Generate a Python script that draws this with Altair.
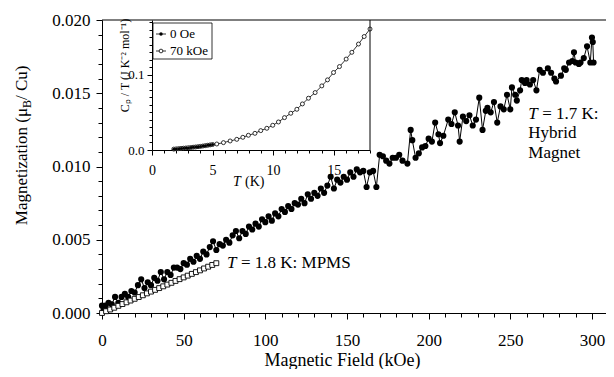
import altair as alt
import pandas as pd

# ---------------- data ----------------
field_hybrid = [0, 1, 2, 3, 4, 6, 8, 10, 12, 14, 16, 18, 20, 22, 24, 26, 28, 30, 32, 34,
                36, 38, 40, 42, 44, 46, 48, 50, 52, 54, 56, 58, 60, 62, 64, 66, 68, 70, 72, 74,
                76, 78, 80, 82, 84, 86, 88, 90, 92, 94, 96, 98, 100, 102, 104, 106, 108, 110, 112, 114,
                116, 118, 120, 122, 124, 126, 128, 130, 132, 134, 136, 138, 140, 142, 144, 146, 148, 150, 152, 154,
                156, 158, 160, 162, 164, 166, 168, 170, 172, 174, 176, 178, 180, 182, 184, 187, 189, 190, 192, 194,
                196, 198, 200, 202, 204, 206, 207, 209, 212, 214, 216, 218, 219, 221, 223, 225, 227, 229, 231, 233,
                235, 236, 238, 240, 242, 244, 246, 248, 250, 251, 253, 254, 256, 257, 259, 260, 262, 264, 266, 268,
                270, 273, 275, 277, 278, 281, 283, 284, 286, 288, 289, 290, 292, 293, 295, 297, 299, 300, 300.5, 301]
mag_hybrid = [0.0005, 0.0002, 0.0005, 0.0002, 0.0007, 0.0006, 0.0011, 0.0007, 0.0011, 0.0013, 0.0011, 0.0015, 0.0014, 0.0019, 0.0023, 0.0017, 0.0021, 0.0019, 0.0024, 0.0022,
              0.0028, 0.0023, 0.0028, 0.0026, 0.0031, 0.0031, 0.0030, 0.0034, 0.0033, 0.0037, 0.0035, 0.0039, 0.0037, 0.0042, 0.0040, 0.0045, 0.0049, 0.0043, 0.0047, 0.0046,
              0.0050, 0.0048, 0.0053, 0.0056, 0.0051, 0.0056, 0.0054, 0.0059, 0.0057, 0.0061, 0.0059, 0.0064, 0.0062, 0.0066, 0.0063, 0.0068, 0.0066, 0.0071, 0.0069, 0.0073,
              0.0071, 0.0075, 0.0074, 0.0078, 0.0075, 0.0081, 0.0078, 0.0082, 0.0080, 0.0085, 0.0082, 0.0087, 0.0093, 0.0085, 0.0091, 0.0089, 0.0093, 0.0091, 0.0096, 0.0093,
              0.0098, 0.0096, 0.0097, 0.0086, 0.0096, 0.0097, 0.0086, 0.0108, 0.0107, 0.0104, 0.0102, 0.0106, 0.0106, 0.0108, 0.0104, 0.0102, 0.0125, 0.0118, 0.0106, 0.0109,
              0.0113, 0.0114, 0.0119, 0.0117, 0.0130, 0.0122, 0.0116, 0.0121, 0.0132, 0.0129, 0.0137, 0.0128, 0.0117, 0.0134, 0.0131, 0.0135, 0.0128, 0.0132, 0.0147, 0.0125,
              0.0138, 0.0140, 0.0137, 0.0144, 0.0130, 0.0141, 0.0139, 0.0149, 0.0139, 0.0154, 0.0149, 0.0145, 0.0152, 0.0159, 0.0157, 0.0159, 0.0156, 0.0159, 0.0152, 0.0166,
              0.0164, 0.0167, 0.0164, 0.0160, 0.0158, 0.0162, 0.0167, 0.0166, 0.0171, 0.0172, 0.0178, 0.0171, 0.0170, 0.0171, 0.0174, 0.0182, 0.0171, 0.0188, 0.0185, 0.0171]

field_mpms = [0, 2.5, 5, 7.5, 10, 12.5, 15, 17.5, 20, 22.5, 25, 27.5, 30, 32.5, 35,
              37.5, 40, 42.5, 45, 47.5, 50, 52.5, 55, 57.5, 60, 62.5, 65, 67.5, 70]
mag_mpms = [0.0000, 0.00012, 0.00024, 0.00036, 0.00049, 0.00061, 0.00073, 0.00085, 0.00097, 0.00109, 0.00121, 0.00134, 0.00146, 0.00158, 0.00170,
            0.00182, 0.00194, 0.00206, 0.00219, 0.00231, 0.00243, 0.00255, 0.00267, 0.00279, 0.00291, 0.00304, 0.00316, 0.00328, 0.00340]

temp_70kOe = [1.8, 2.0, 2.2, 2.4, 2.6, 2.8, 3.0, 3.2, 3.4, 3.6, 3.8, 4.0, 4.2, 4.4, 4.6, 4.8, 5.0,
              5.35, 5.9, 6.45, 7.0, 7.5, 7.96, 8.5, 8.98, 9.48, 9.97, 10.44, 10.94, 11.46, 11.96, 12.42,
              12.92, 13.47, 14.02, 14.49, 14.99, 15.48, 16.03, 16.5, 17.05, 17.52, 18.0]
cpT_70kOe = [0.0012, 0.0015, 0.0018, 0.0021, 0.0024, 0.0027, 0.0030, 0.0033, 0.0037, 0.0040, 0.0044, 0.0048, 0.0053, 0.0058, 0.0063, 0.0068, 0.0073,
             0.0080, 0.0098, 0.0120, 0.0142, 0.0169, 0.0196, 0.0222, 0.0258, 0.0289, 0.0329, 0.0373, 0.0431, 0.0489, 0.0542, 0.0613,
             0.0689, 0.0764, 0.0853, 0.0933, 0.1031, 0.1110, 0.1210, 0.1300, 0.1410, 0.1510, 0.1610]
temp_0Oe = [1.8, 2.0, 2.2, 2.4, 2.6, 2.8, 3.0, 3.2, 3.4, 3.6, 3.8, 4.0, 4.2, 4.4, 4.6, 4.8, 5.0]
cpT_0Oe = [0.0010, 0.0013, 0.0016, 0.0019, 0.0022, 0.0025, 0.0028, 0.0032, 0.0035, 0.0039, 0.0043, 0.0047, 0.0052, 0.0057, 0.0062, 0.0067, 0.0072]

legend_labels = ["0 Oe", "70 kOe"]

# ---------------- layout ----------------
PAD_L = 94
W, H = 504, 293
FONT = "Liberation Serif"

hyb = pd.DataFrame({"H": field_hybrid, "M": mag_hybrid})
mp = pd.DataFrame({"H": field_mpms, "M": mag_mpms})
c70 = pd.DataFrame({"T": temp_70kOe, "C": cpT_70kOe})
c0 = pd.DataFrame({"T": temp_0Oe, "C": cpT_0Oe})
one = pd.DataFrame({"k": [0]})

xs = alt.Scale(domain=[0, 308.6], range=[0, W], nice=False, zero=False)
ys = alt.Scale(domain=[0, 0.020], range=[H, 0], nice=False, zero=False)

x_axis = alt.Axis(
    orient="bottom", values=list(range(0, 301, 10)), format="d",
    labelExpr="datum.value % 50 === 0 ? datum.label : ''",
    tickSize={"condition": {"test": "datum.value % 50 === 0", "value": 6}, "value": 4},
    labelFlush=False, labelOverlap=False, labelFontSize=17, labelPadding=13,
    title="Magnetic Field (kOe)", titleFontSize=18, titleX=240, titleY=47,
    titleBaseline="middle", titleAnchor="middle")
y_axis = alt.Axis(
    orient="left", values=[i / 1000 for i in range(21)], format=".3f",
    labelExpr="round(datum.value*1000) % 5 === 0 ? datum.label : ''",
    tickSize={"condition": {"test": "round(datum.value*1000) % 5 === 0", "value": 6}, "value": 4},
    labelFlush=False, labelOverlap=False, labelFontSize=17, labelPadding=6, title=None)


def X(ax=None):
    return alt.X("H:Q", scale=xs, axis=ax)


def Y(ax=None):
    return alt.Y("M:Q", scale=ys, axis=ax)


hyb_line = alt.Chart(hyb).mark_line(color="black", strokeWidth=1).encode(
    x=X(x_axis), y=Y(y_axis), order="H:Q")
hyb_pts = alt.Chart(hyb).mark_point(shape="circle", filled=True, color="black", size=38, opacity=1).encode(
    x=X(), y=Y())
mp_line = alt.Chart(mp).mark_line(color="black", strokeWidth=0.8).encode(x=X(), y=Y())
mp_pts = alt.Chart(mp).mark_point(shape="square", filled=True, fill="white", stroke="black",
                                  strokeWidth=0.9, size=24, opacity=1).encode(x=X(), y=Y())

top_rule = alt.Chart(one).mark_rule(color="black", strokeWidth=1.2).encode(
    x=alt.value(0), x2=alt.value(W), y=alt.value(0))

ann = pd.DataFrame({"H": [76.5, 261.0, 261.0, 261.0],
                    "M": [0.00341, 0.01358, 0.01229, 0.01092],
                    "rest": ["= 1.8 K: MPMS", "= 1.7 K:", "Hybrid", "Magnet"],
                    "ital": ["T", "T", "", ""]})
ann_T = alt.Chart(ann).mark_text(font=FONT, fontSize=17, fontStyle="italic", align="left",
                                 baseline="middle", color="black").encode(x=X(), y=Y(), text="ital:N")
ann_r1 = alt.Chart(ann.iloc[:2]).mark_text(font=FONT, fontSize=17, align="left", baseline="middle",
                                           color="black", dx=14).encode(x=X(), y=Y(), text="rest:N")
ann_r2 = alt.Chart(ann.iloc[2:]).mark_text(font=FONT, fontSize=17, align="left", baseline="middle",
                                           color="black").encode(x=X(), y=Y(), text="rest:N")

# y-axis title with subscript B
YT_X, YT_Y = -80, 88
yt1 = alt.Chart(one).mark_text(font=FONT, fontSize=17, angle=270, align="right", baseline="middle",
                               color="black").encode(x=alt.value(YT_X), y=alt.value(YT_Y),
                                                     text=alt.value("Magnetization  (\u03bc"))
yt2 = alt.Chart(one).mark_text(font=FONT, fontSize=12, angle=270, align="left", baseline="middle",
                               color="black", dy=5).encode(x=alt.value(YT_X), y=alt.value(YT_Y),
                                                           text=alt.value("B"))
yt3 = alt.Chart(one).mark_text(font=FONT, fontSize=17, angle=270, align="left", baseline="middle",
                               color="black", dx=8).encode(x=alt.value(YT_X), y=alt.value(YT_Y),
                                                           text=alt.value(" / Cu)"))

# ---------------- inset ----------------
ixs = alt.Scale(domain=[0, 18], range=[50, 268], nice=False, zero=False)
iys = alt.Scale(domain=[0, 0.173], range=[130, 0], nice=False, zero=False)

ix_axis = alt.Axis(
    orient="bottom", offset=-163, values=list(range(0, 19)), format="d",
    labelExpr="datum.value % 5 === 0 ? datum.label : ''",
    tickSize={"condition": {"test": "datum.value % 5 === 0", "value": 5}, "value": 3},
    labelFlush=False, labelOverlap=False, labelFontSize=14, labelPadding=8, title=None)
iy_axis = alt.Axis(
    orient="left", offset=-50, values=[i / 100 for i in range(18)], format=".1f",
    labelExpr="round(datum.value*100) % 10 === 0 ? datum.label : ''",
    tickSize={"condition": {"test": "round(datum.value*100) % 10 === 0", "value": 5}, "value": 3},
    labelFlush=False, labelOverlap=False, labelFontSize=13, labelPadding=3,
    title="C\u209a / T (J K\u207b\u00b2 mol\u207b\u00b9)", titleFontSize=12, titleX=-28, titleY=45,
    titleAngle=270, titleAlign="center", titleBaseline="middle")


def IX(ax=None):
    return alt.X("T:Q", scale=ixs, axis=ax)


def IY(ax=None):
    return alt.Y("C:Q", scale=iys, axis=ax)


l70 = alt.Chart(c70).mark_line(color="black", strokeWidth=0.8).encode(x=IX(ix_axis), y=IY(iy_axis))
p70 = alt.Chart(c70).mark_point(shape="circle", filled=True, fill="white", stroke="black",
                                strokeWidth=0.8, size=16, opacity=1).encode(x=IX(), y=IY())
p0 = alt.Chart(c0).mark_point(shape="circle", filled=True, color="black", size=9, opacity=1).encode(
    x=IX(), y=IY())
frame_df = pd.DataFrame({"T": [18], "C": [0], "C2": [0.173]})
right_rule = alt.Chart(frame_df).mark_rule(color="black", strokeWidth=1).encode(
    x=IX(), y=IY(), y2="C2:Q")

it1 = alt.Chart(one).mark_text(font=FONT, fontSize=14, fontStyle="italic", align="left",
                               baseline="middle", color="black").encode(
    x=alt.value(131), y=alt.value(162), text=alt.value("T"))
it2 = alt.Chart(one).mark_text(font=FONT, fontSize=14, align="left", baseline="middle",
                               color="black").encode(
    x=alt.value(143), y=alt.value(162), text=alt.value("(K)"))

# inset legend
leg_box = alt.Chart(one).mark_rect(fill="white", stroke="black", strokeWidth=0.8).encode(
    x=alt.value(51), x2=alt.value(110), y=alt.value(3), y2=alt.value(39))
leg_l1 = alt.Chart(one).mark_rule(color="black", strokeWidth=0.8).encode(
    x=alt.value(54), x2=alt.value(64), y=alt.value(14))
leg_l2 = alt.Chart(one).mark_rule(color="black", strokeWidth=0.8).encode(
    x=alt.value(54), x2=alt.value(64), y=alt.value(31))
leg_p1 = alt.Chart(one).mark_point(shape="circle", filled=True, color="black", size=12, opacity=1).encode(
    x=alt.value(59), y=alt.value(14))
leg_p2 = alt.Chart(one).mark_point(shape="circle", filled=True, fill="white", stroke="black",
                                   strokeWidth=0.8, size=14, opacity=1).encode(
    x=alt.value(59), y=alt.value(31))
leg_t1 = alt.Chart(one).mark_text(font=FONT, fontSize=13, align="left", baseline="middle",
                                  color="black").encode(x=alt.value(68), y=alt.value(14),
                                                        text=alt.value(legend_labels[0]))
leg_t2 = alt.Chart(one).mark_text(font=FONT, fontSize=13, align="left", baseline="middle",
                                  color="black").encode(x=alt.value(68), y=alt.value(31),
                                                        text=alt.value(legend_labels[1]))

chart = alt.layer(
    hyb_line, hyb_pts, mp_line, mp_pts, top_rule, ann_T, ann_r1, ann_r2, yt1, yt2, yt3,
    l70, p70, p0, right_rule, it1, it2,
    leg_box, leg_l1, leg_l2, leg_p1, leg_p2, leg_t1, leg_t2
).resolve_scale(x="independent", y="independent").properties(
    width=W, height=H, autosize="none",
    padding={"left": PAD_L, "top": 12, "right": 0, "bottom": 56},
    background="white",
).configure_view(stroke=None).configure_axis(
    grid=False, domainColor="black", tickColor="black", labelColor="black", titleColor="black",
    labelFont=FONT, titleFont=FONT, titleFontWeight="normal", domainWidth=1, tickWidth=1)

chart.save("out.html", embed_options={"renderer": "svg", "actions": False})
